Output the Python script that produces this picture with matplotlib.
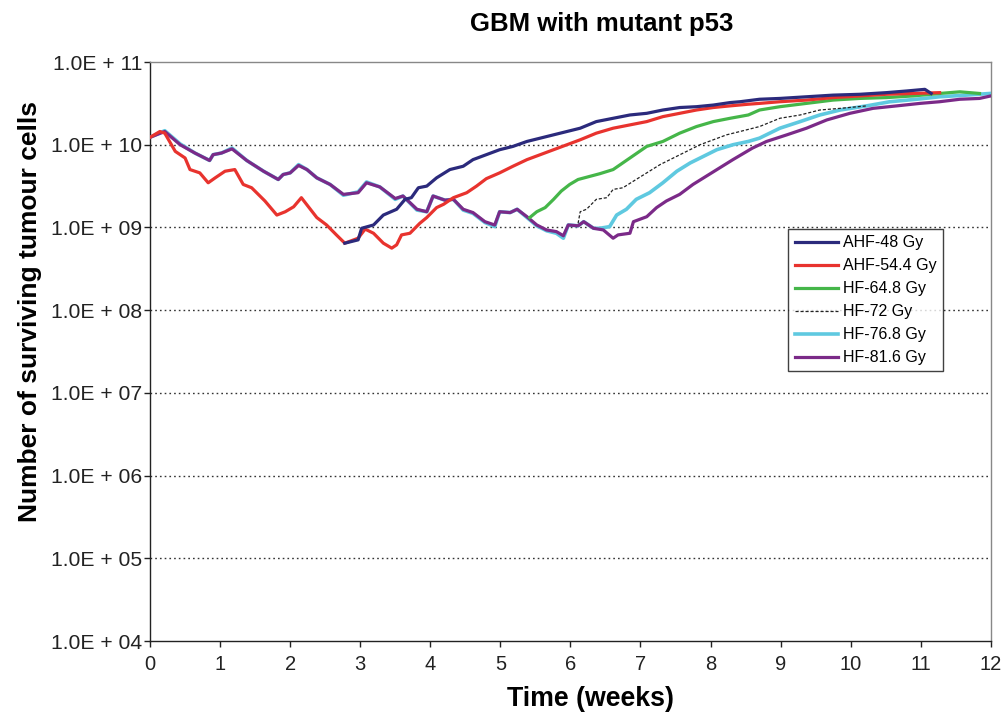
import numpy as np
import matplotlib as mpl
mpl.use('agg')
import matplotlib.pyplot as plt
from matplotlib.ticker import FixedLocator, FuncFormatter

plt.rcParams['font.family'] = ['Liberation Sans', 'DejaVu Sans']

# time in weeks, cell numbers as log10 values
t_ahf48 = [2.78, 2.97, 3.02, 3.19, 3.33, 3.52, 3.64, 3.73, 3.83, 3.95, 4.09, 4.28, 4.47, 4.61,
           4.80, 4.99, 5.18, 5.38, 5.57, 5.76, 5.95, 6.14, 6.37, 6.61, 6.85, 7.09, 7.32, 7.56,
           7.80, 8.04, 8.28, 8.42, 8.70, 8.99, 9.37, 9.75, 10.13, 10.51, 10.80, 11.06, 11.15]
n_ahf48 = [8.81, 8.85, 8.99, 9.03, 9.15, 9.22, 9.34, 9.36, 9.48, 9.50, 9.60, 9.70, 9.74, 9.82,
           9.88, 9.94, 9.98, 10.04, 10.08, 10.12, 10.16, 10.20, 10.28, 10.32, 10.36, 10.38, 10.42, 10.45,
           10.46, 10.48, 10.51, 10.52, 10.55, 10.56, 10.58, 10.60, 10.61, 10.63, 10.65, 10.67, 10.62]

t_ahf544 = [0.00, 0.14, 0.21, 0.36, 0.50, 0.57, 0.71, 0.83, 0.93, 1.07, 1.21, 1.33, 1.45, 1.64,
            1.81, 1.93, 2.05, 2.16, 2.38, 2.52, 2.66, 2.78, 2.97, 3.07, 3.19, 3.33, 3.45, 3.52,
            3.59, 3.71, 3.85, 3.95, 4.09, 4.19, 4.33, 4.52, 4.66, 4.80, 4.99, 5.18, 5.38, 5.57,
            5.76, 5.95, 6.14, 6.37, 6.61, 6.85, 7.09, 7.32, 7.56, 7.80, 8.04, 8.28, 8.54, 8.70,
            8.99, 9.37, 9.75, 10.13, 10.51, 10.89, 11.27]
n_ahf544 = [10.09, 10.16, 10.14, 9.92, 9.84, 9.70, 9.66, 9.54, 9.60, 9.68, 9.70, 9.52, 9.48, 9.32,
            9.15, 9.19, 9.25, 9.36, 9.12, 9.03, 8.91, 8.81, 8.87, 8.98, 8.93, 8.81, 8.75, 8.79,
            8.91, 8.93, 9.05, 9.12, 9.24, 9.28, 9.36, 9.42, 9.50, 9.59, 9.66, 9.74, 9.82, 9.88,
            9.94, 10.00, 10.06, 10.14, 10.20, 10.24, 10.28, 10.34, 10.38, 10.42, 10.45, 10.47, 10.49, 10.50,
            10.52, 10.54, 10.57, 10.59, 10.61, 10.62, 10.63]

t_hf648 = [5.42, 5.52, 5.64, 5.76, 5.87, 5.99, 6.11, 6.42, 6.61, 6.85, 7.09, 7.32, 7.56, 7.80,
           8.04, 8.28, 8.54, 8.70, 8.99, 9.37, 9.75, 10.13, 10.51, 10.89, 11.27, 11.56, 11.84]
n_hf648 = [9.12, 9.19, 9.24, 9.34, 9.44, 9.52, 9.58, 9.65, 9.70, 9.84, 9.98, 10.04, 10.14, 10.22,
           10.28, 10.32, 10.36, 10.42, 10.46, 10.50, 10.54, 10.56, 10.57, 10.59, 10.62, 10.64, 10.62]

t_hf72 = [6.11, 6.14, 6.23, 6.37, 6.52, 6.61, 6.75, 6.90, 7.09, 7.28, 7.47, 7.66, 7.85, 8.04,
          8.23, 8.42, 8.70, 8.99, 9.28, 9.56, 9.85, 10.23]
n_hf72 = [9.05, 9.19, 9.22, 9.34, 9.36, 9.46, 9.48, 9.56, 9.66, 9.76, 9.84, 9.92, 10.00, 10.06,
          10.12, 10.16, 10.22, 10.32, 10.36, 10.42, 10.44, 10.47]

t_hf816 = [0.00, 0.21, 0.43, 0.64, 0.85, 0.90, 1.02, 1.17, 1.38, 1.62, 1.83, 1.90, 2.00, 2.12,
           2.24, 2.38, 2.57, 2.76, 2.97, 3.09, 3.28, 3.50, 3.61, 3.81, 3.95, 4.04, 4.21, 4.33,
           4.47, 4.61, 4.78, 4.92, 4.99, 5.14, 5.24, 5.38, 5.52, 5.66, 5.80, 5.90, 5.97, 6.11,
           6.19, 6.33, 6.47, 6.61, 6.68, 6.85, 6.90, 7.09, 7.23, 7.37, 7.56, 7.75, 7.94, 8.13,
           8.32, 8.52, 8.60, 8.80, 9.09, 9.37, 9.66, 9.99, 10.32, 10.66, 10.99, 11.27, 11.56, 11.84, 12.00]
n_hf816 = [10.09, 10.16, 10.00, 9.90, 9.81, 9.88, 9.90, 9.95, 9.81, 9.68, 9.58, 9.64, 9.66, 9.75,
           9.70, 9.60, 9.52, 9.40, 9.42, 9.54, 9.49, 9.35, 9.38, 9.22, 9.19, 9.38, 9.33, 9.34,
           9.22, 9.18, 9.07, 9.03, 9.19, 9.18, 9.22, 9.13, 9.03, 8.97, 8.95, 8.90, 9.03, 9.02,
           9.07, 8.99, 8.97, 8.87, 8.91, 8.93, 9.07, 9.13, 9.24, 9.32, 9.40, 9.52, 9.62, 9.72,
           9.82, 9.92, 9.96, 10.04, 10.12, 10.20, 10.30, 10.38, 10.44, 10.47, 10.50, 10.52, 10.55, 10.56, 10.59]

t_hf768 = [0.00, 0.21, 0.43, 0.64, 0.85, 0.90, 1.02, 1.17, 1.38, 1.62, 1.83, 1.90, 2.00, 2.12,
           2.24, 2.38, 2.57, 2.76, 2.97, 3.09, 3.28, 3.50, 3.61, 3.81, 3.95, 4.04, 4.21, 4.33,
           4.47, 4.61, 4.78, 4.92, 4.99, 5.14, 5.24, 5.38, 5.52, 5.66, 5.80, 5.90, 5.97, 6.11,
           6.19, 6.33, 6.42, 6.56, 6.66, 6.80, 6.94, 7.13, 7.32, 7.52, 7.71, 7.90, 8.09, 8.32,
           8.54, 8.70, 8.99, 9.28, 9.56, 9.85, 10.23, 10.56, 10.94, 11.27, 11.65, 11.99]
n_hf768 = [10.09, 10.17, 10.01, 9.90, 9.81, 9.88, 9.90, 9.96, 9.81, 9.68, 9.58, 9.64, 9.66, 9.76,
           9.70, 9.60, 9.52, 9.39, 9.43, 9.55, 9.49, 9.34, 9.38, 9.21, 9.19, 9.38, 9.33, 9.34,
           9.21, 9.17, 9.06, 9.01, 9.19, 9.18, 9.22, 9.12, 9.02, 8.96, 8.93, 8.87, 9.03, 9.02,
           9.07, 8.99, 8.99, 9.01, 9.15, 9.22, 9.34, 9.42, 9.54, 9.68, 9.78, 9.86, 9.94, 10.00,
           10.04, 10.08, 10.20, 10.28, 10.36, 10.42, 10.47, 10.52, 10.55, 10.58, 10.60, 10.62]

fig = plt.figure(figsize=(10.05, 7.18), dpi=100, facecolor='w')
ax = fig.add_axes([0.1493, 0.1072, 0.8365, 0.8064])

ax.plot(t_hf768, 10 ** np.array(n_hf768), color='#5fc9e0', lw=2.6, label='HF-76.8 Gy', zorder=3)
ax.plot(t_hf816, 10 ** np.array(n_hf816), color='#7b2a88', lw=2.3, label='HF-81.6 Gy', zorder=4)
ax.plot(t_hf648, 10 ** np.array(n_hf648), color='#45b649', lw=2.3, label='HF-64.8 Gy', zorder=5)
ax.plot(t_ahf544, 10 ** np.array(n_ahf544), color='#e8332e', lw=2.3, label='AHF-54.4 Gy', zorder=6)
ax.plot(t_ahf48, 10 ** np.array(n_ahf48), color='#2b2a7c', lw=2.3, label='AHF-48 Gy', zorder=7)
ax.plot(t_hf72, 10 ** np.array(n_hf72), color='#222222', lw=0.9, ls=(0, (2.5, 1.5)), label='HF-72 Gy', zorder=8)

ax.set_yscale('log')
ax.set_ylim(1e4, 1e11)
ax.set_xlim(0, 12)
ax.yaxis.set_major_locator(FixedLocator([10.0 ** k for k in range(4, 12)]))
ax.yaxis.set_minor_locator(FixedLocator([]))
ax.yaxis.set_major_formatter(FuncFormatter(lambda v, p: '1.0E + %02d' % int(round(np.log10(v)))))
ax.set_xticks(range(0, 13))
ax.tick_params(axis='both', direction='out', length=4, width=1, colors='#222222')
ax.tick_params(axis='y', labelsize=15.2, pad=1.5)
ax.tick_params(axis='x', labelsize=14.5, pad=6)

for k in range(5, 11):
    ax.axhline(10.0 ** k, color='#333333', lw=1.0, ls=(0, (1.2, 2.2)), zorder=1)

for s in ax.spines.values():
    s.set_linewidth(1.0)
    s.set_color('#222222')
ax.spines['top'].set_color('#888888')
ax.spines['right'].set_color('#888888')

ax.set_title('GBM with mutant p53', fontsize=18.5, fontweight='bold', x=0.537, pad=22)
ax.set_xlabel('Time (weeks)', fontsize=19.3, fontweight='bold')
ax.xaxis.set_label_coords(0.524, -0.078)
ax.set_ylabel('Number of surviving tumour cells', fontsize=19, fontweight='bold')
ax.yaxis.set_label_coords(-0.128, 0.57)

handles, labels = ax.get_legend_handles_labels()
order = ['AHF-48 Gy', 'AHF-54.4 Gy', 'HF-64.8 Gy', 'HF-72 Gy', 'HF-76.8 Gy', 'HF-81.6 Gy']
hmap = dict(zip(labels, handles))
leg = ax.legend([hmap[o] for o in order], order, loc='upper left', bbox_to_anchor=(0.759, 0.712),
                fontsize=11.5, frameon=True, fancybox=False, edgecolor='#111111', handlelength=2.7,
                labelspacing=0.5, borderpad=0.4, handletextpad=0.35, borderaxespad=0)
leg.get_frame().set_linewidth(1.0)

plt.savefig('out.png', dpi=100)
